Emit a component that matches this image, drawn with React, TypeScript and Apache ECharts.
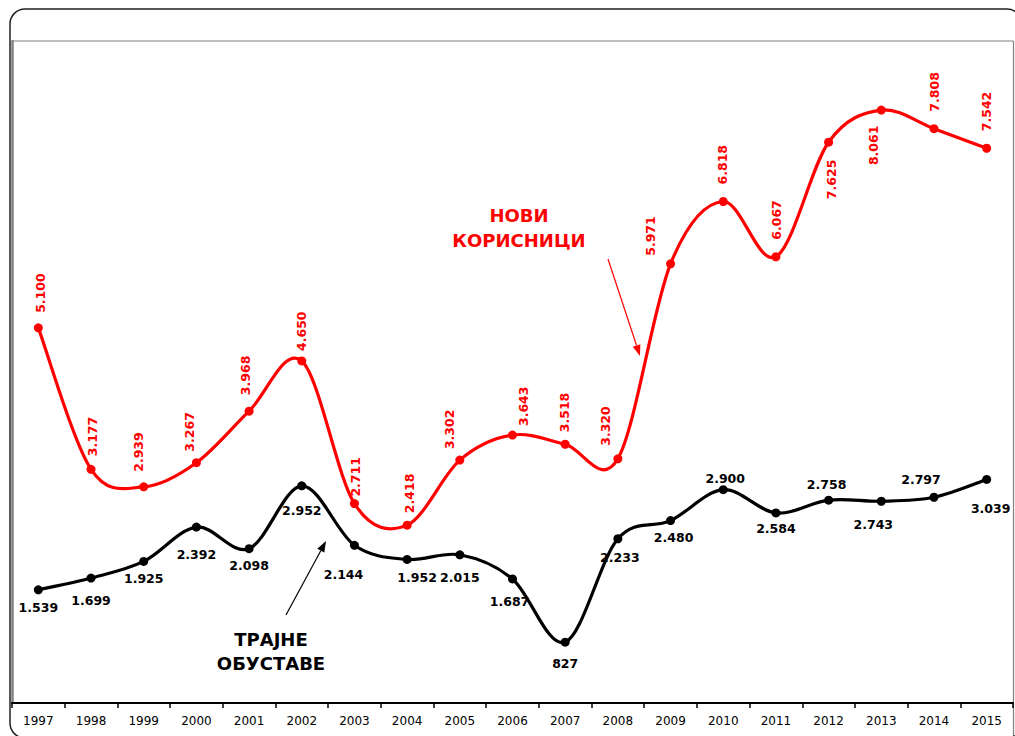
import React, { useEffect, useRef } from "react";
import * as echarts from "echarts";

const years = ["1997","1998","1999","2000","2001","2002","2003","2004","2005","2006","2007","2008","2009","2010","2011","2012","2013","2014","2015"];
const newUsers = [5100,3177,2939,3267,3968,4650,2711,2418,3302,3643,3518,3320,5971,6818,6067,7625,8061,7808,7542];
const stopped = [1539,1699,1925,2392,2098,2952,2144,1952,2015,1687,827,2233,2480,2900,2584,2758,2743,2797,3039];

// label placement tweaks in screen pixels [x, y] (styling only)
const redBelow = [15, 16];
const redShift = [[2,-2],[1,0],[-5,-2],[-7,2],[-4,-3],[0,3],[1,6],[2,1],[-10,2],[11,4],[-1,1],[-12,0],[-20,5],[-1,-4],[1,-4],[3,6],[-8,4],[1,-4],[0,-4]];
const blackAbove = [13, 15, 17];
const blackShift = [[0,0],[0,4],[0,-1],[0,9],[0,-1],[0,7],[-11,11],[10,0],[0,5],[-3,5],[0,3],[2,1],[3,-1],[2,5],[0,-2],[-2,0],[-8,5],[-13,-2],[4,11]];

const fmt = (v: number) => String(v).replace(/\B(?=(\d{3})+(?!\d))/g, ".");
const FONT = "DejaVu Sans";

function arrow(x1: number, y1: number, x2: number, y2: number, color: string) {
  const dx = x2 - x1, dy = y2 - y1;
  const len = Math.sqrt(dx * dx + dy * dy);
  const ux = dx / len, uy = dy / len;
  const hl = 11, hw = 4;
  const bx = x2 - ux * hl, by = y2 - uy * hl;
  return [
    { type: "line", shape: { x1, y1, x2: bx, y2: by }, style: { stroke: color, lineWidth: 1.2 }, silent: true },
    { type: "polygon", shape: { points: [[x2, y2], [bx - uy * hw, by + ux * hw], [bx + uy * hw, by - ux * hw]] }, style: { fill: color }, silent: true },
  ];
}

// Excel-like (Catmull-Rom) smoothed curve through points given by the axis scales
function curveSeries(values: number[], color: string) {
  return {
    type: "custom",
    data: [0],
    z: 2,
    silent: true,
    renderItem: (_params: any, api: any) => {
      const p = values.map((v, i) => api.coord([i, v]));
      const n = p.length;
      let d = `M${p[0][0]},${p[0][1]}`;
      for (let i = 0; i < n - 1; i++) {
        const p0 = p[Math.max(i - 1, 0)], p1 = p[i], p2 = p[i + 1], p3 = p[Math.min(i + 2, n - 1)];
        const c1x = p1[0] + (p2[0] - p0[0]) / 6, c1y = p1[1] + (p2[1] - p0[1]) / 6;
        const c2x = p2[0] - (p3[0] - p1[0]) / 6, c2y = p2[1] - (p3[1] - p1[1]) / 6;
        d += ` C${c1x},${c1y} ${c2x},${c2y} ${p2[0]},${p2[1]}`;
      }
      return {
        type: "path",
        shape: { pathData: d },
        style: { stroke: color, lineWidth: 3.2, fill: "none", lineJoin: "round" },
      };
    },
  };
}

export default function App() {
  const ref = useRef<HTMLDivElement>(null);
  useEffect(() => {
    if (!ref.current) return;
    const chart = echarts.init(ref.current, null, { renderer: "svg" });
    const redData = newUsers.map((v, i) => {
      const below = redBelow.indexOf(i) >= 0;
      return {
        value: v,
        label: below ? { position: "bottom", align: "right", distance: 7 } : { position: "top", align: "left", distance: 8.5 },
      };
    });
    const blackData = stopped.map((v, i) => {
      const above = blackAbove.indexOf(i) >= 0;
      return { value: v, label: { position: above ? "top" : "bottom", distance: above ? 5 : 7 } };
    });
    chart.setOption({
      animation: false,
      backgroundColor: "#ffffff",
      grid: { left: 12, right: 2, top: 41, bottom: 33, containLabel: false },
      xAxis: {
        type: "category",
        data: years,
        boundaryGap: true,
        axisLine: { lineStyle: { color: "#000", width: 2 } },
        axisTick: { show: true, length: 5, interval: 0, lineStyle: { color: "#000", width: 1.5 } },
        axisLabel: { color: "#000", fontSize: 12, fontFamily: FONT, margin: 12, interval: 0 },
        splitLine: { show: false },
      },
      yAxis: {
        type: "value",
        min: 0,
        max: 9000,
        axisLine: { show: true, lineStyle: { color: "#808080", width: 2.5 } },
        axisTick: { show: false },
        axisLabel: { show: false },
        splitLine: { show: false },
      },
      series: [
        curveSeries(newUsers, "#ff0000"),
        curveSeries(stopped, "#000000"),
        {
          name: "НОВИ КОРИСНИЦИ",
          type: "line",
          data: redData,
          symbol: "circle",
          symbolSize: 9,
          itemStyle: { color: "#ff0000" },
          lineStyle: { width: 0, opacity: 0 },
          label: {
            show: true,
            rotate: 90,
            verticalAlign: "middle",
            color: "#ff0000",
            fontFamily: FONT,
            fontWeight: "bold",
            fontSize: 12.5,
            formatter: (p: any) => fmt(p.value),
          },
          // rotated labels: layout offsets act in the rotated frame
          labelLayout: (p: any) => ({ dx: -redShift[p.dataIndex][1], dy: redShift[p.dataIndex][0] }),
          z: 3,
        },
        {
          name: "ТРАЈНЕ ОБУСТАВЕ",
          type: "line",
          data: blackData,
          symbol: "circle",
          symbolSize: 9,
          itemStyle: { color: "#000000" },
          lineStyle: { width: 0, opacity: 0 },
          label: {
            show: true,
            color: "#000000",
            fontFamily: FONT,
            fontWeight: "bold",
            fontSize: 12.5,
            formatter: (p: any) => fmt(p.value),
          },
          labelLayout: (p: any) => ({ dx: blackShift[p.dataIndex][0], dy: blackShift[p.dataIndex][1] }),
          z: 3,
        },
      ],
      graphic: [
        { type: "rect", shape: { x: 10, y: 9, width: 1012, height: 729, r: 15 }, style: { fill: "none", stroke: "#222", lineWidth: 1.5 }, silent: true, z: 10 },
        { type: "line", shape: { x1: 12, y1: 41, x2: 1013.5, y2: 41 }, style: { stroke: "#808080", lineWidth: 1.2 }, silent: true },
        { type: "line", shape: { x1: 1013.5, y1: 41, x2: 1013.5, y2: 736 }, style: { stroke: "#808080", lineWidth: 1.2 }, silent: true },
        {
          type: "text", x: 519, y: 228,
          style: { text: "НОВИ\nКОРИСНИЦИ", fill: "#ff0000", font: `bold 18px "${FONT}"`, textAlign: "center", textVerticalAlign: "middle", lineHeight: 25 },
          silent: true,
        },
        {
          type: "text", x: 271, y: 651,
          style: { text: "ТРАЈНЕ\nОБУСТАВЕ", fill: "#000000", font: `bold 18px "${FONT}"`, textAlign: "center", textVerticalAlign: "middle", lineHeight: 24 },
          silent: true,
        },
        ...arrow(608, 259, 640, 356, "#ff0000"),
        ...arrow(286, 615, 326, 541, "#000000"),
      ],
    });
    return () => chart.dispose();
  }, []);
  return <div ref={ref} style={{ position: "fixed", left: 0, top: 0, width: 1015, height: 736 }} />;
}
